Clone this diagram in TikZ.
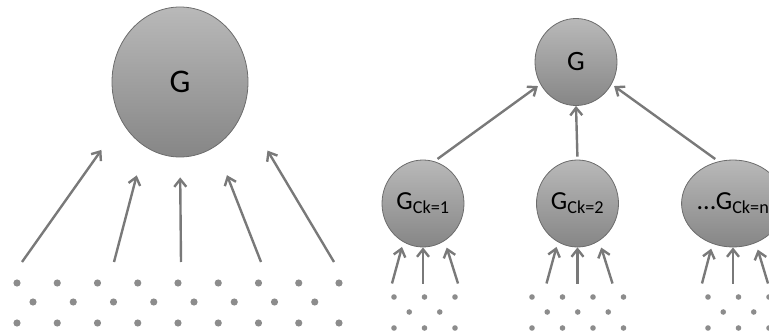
\documentclass[tikz,border=0pt]{standalone}
\usepackage{fontspec}
\setmainfont{Carlito}
\usetikzlibrary{arrows.meta,shapes.geometric}

\begin{document}
\begin{tikzpicture}[x=1pt,y=-1pt,>={Straight Barb[length=7.5pt,width=12pt]},
    blob/.style={ellipse,draw=gray!85!black,line width=0.8pt,top color=gray!55,bottom color=gray!95,inner sep=0pt},
    sub/.style={blob,minimum width=82pt,minimum height=87pt,font=\fontsize{26}{26}\selectfont},
    arr/.style={->,draw=gray!95!black,line width=2.4pt},
    dot/.style={fill=gray!90}]

                \clip (0,0) rectangle (769,334);

                % flat: one G fed by all points
                \node[blob,minimum width=136pt,minimum height=150pt,font=\fontsize{33}{33}\selectfont] (bigG) at (180,82) {G};

                \coordinate (t1) at (22,262);
                \coordinate (t2) at (114,262);
                \coordinate (t3) at (181,262);
                \coordinate (t4) at (261,262);
                \coordinate (t5) at (334,262);

                \draw[arr,shorten >=35pt] (t1) -- (bigG.214);
                \draw[arr,shorten >=30pt] (t2) -- (bigG.241);
                \draw[arr,shorten >=20pt] (t3) -- (bigG.270);
                \draw[arr,shorten >=31pt] (t4) -- (bigG.299);
                \draw[arr,shorten >=47pt] (t5) -- (bigG.336);

                \foreach \i in {0,...,8} {
                    \fill[dot] (17+40.25*\i,283) circle (3.6pt);
                    \fill[dot] (17+40.25*\i,323) circle (3.6pt);
                }
                \foreach \i in {0,...,7}
                    \fill[dot] (33+40.25*\i,302) circle (3.6pt);

                % clustered: G fed by the cluster models
                \node[blob,minimum width=82pt,minimum height=87pt,font=\fontsize{28}{28}\selectfont] (topG) at (576,62) {G};
                \node[sub] (ck1) at (423,203.5) {G\textsubscript{Ck=1}};
                \node[sub] (ck2) at (577.5,203.5) {G\textsubscript{Ck=2}};
                \node[sub] (ckn) at (733,203.5) {...G\textsubscript{Ck=n}};

                \draw[arr,shorten <=4pt,shorten >=3pt] (ck1.75) -- (topG.212);
                \draw[arr,shorten <=3pt] (ck2.north) -- (topG.south);
                \draw[arr,shorten <=4pt,shorten >=3pt] (ckn.109) -- (topG.328);

                \foreach \n in {ck1,ck2,ckn} {
                    \coordinate (\n-l) at ([shift={(-31,80)}]\n.center);
                    \coordinate (\n-m) at ([shift={(0,80)}]\n.center);
                    \coordinate (\n-r) at ([shift={(35,80)}]\n.center);
                    \draw[arr,shorten >=5pt] (\n-l) -- (\n.243);
                    \draw[arr] (\n-m) -- (\n.south);
                    \draw[arr,shorten >=7pt] (\n-r) -- (\n.300);
                }

                \foreach \xa/\m in {394/2,532/3,708/2} {
                    \foreach \i in {0,...,\m} {
                        \fill[dot] (\xa+30.5*\i,297) circle (2.8pt);
                        \fill[dot] (\xa+30.5*\i,328) circle (2.8pt);
                    }
                    \foreach \i in {1,...,\m}
                        \fill[dot] (\xa-15.25+30.5*\i,312) circle (2.8pt);
                }

            \end{tikzpicture}
\end{document}
